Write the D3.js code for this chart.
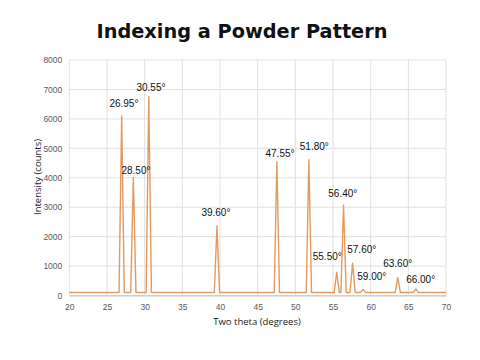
<!DOCTYPE html>
<html><head><meta charset="utf-8">
<script src="https://cdn.jsdelivr.net/npm/d3@7"></script>
<style>html,body{margin:0;padding:0;background:#fff;}</style>
</head><body>
<script>
// Trace of the powder pattern (two theta in degrees, intensity in counts)
const twoTheta = [20,
  26.6, 26.95, 27.3,
  28.15, 28.5, 28.85,
  30.2, 30.55, 30.9,
  39.25, 39.6, 39.95,
  47.2, 47.55, 47.9,
  51.45, 51.8, 52.15,
  55.15, 55.5, 55.85,
  56.05, 56.4, 56.75,
  57.25, 57.6, 57.95,
  58.65, 59.0, 59.35,
  63.25, 63.6, 63.95,
  65.65, 66.0, 66.35,
  70];
const intensity = [100,
  100, 6100, 100,
  100, 4000, 100,
  100, 6750, 100,
  100, 2370, 100,
  100, 4545, 100,
  100, 4610, 100,
  100, 790, 100,
  100, 3075, 100,
  100, 1100, 100,
  100, 210, 100,
  100, 605, 100,
  100, 220, 100,
  100];

// Peak labels and where they sit (in data units)
const peakLabels = ["26.95°","28.50°","30.55°","39.60°","47.55°","51.80°","55.50°","56.40°","57.60°","59.00°","63.60°","66.00°"];
const labelTheta = [27.25, 28.85, 30.84, 39.46, 47.97, 52.52, 54.24, 56.30, 58.82, 60.15, 63.59, 66.64];
const labelCounts = [6528, 4263, 7072, 2826, 4830, 5078, 1318, 3448, 1579, 639, 1080, 560];

const xTicks = [20,25,30,35,40,45,50,55,60,65,70];
const yTicks = [0,1000,2000,3000,4000,5000,6000,7000,8000];

const W = 480, H = 360;
const svg = d3.select("body").append("svg").attr("width", W).attr("height", H)
  .style("background", "#fff");

const x = d3.scaleLinear().domain([20,70]).range([69.3,446]);
const y = d3.scaleLinear().domain([0,8000]).range([295.5,60]);

// title
svg.append("text").attr("x", 242).attr("y", 38).attr("text-anchor","middle")
  .attr("font-family","'DejaVu Sans', Verdana, sans-serif").attr("font-weight","bold")
  .attr("font-size", 20).attr("fill","#111")
  .attr("textLength", 291).attr("lengthAdjust","spacingAndGlyphs")
  .text("Indexing a Powder Pattern");

// grid
const grid = svg.append("g");
grid.selectAll("line.h").data(yTicks).join("line").attr("class","h")
  .attr("x1", x(20)).attr("x2", x(70)).attr("y1", d=>y(d)).attr("y2", d=>y(d))
  .attr("stroke","#e0e0e0").attr("stroke-width",1);
grid.selectAll("line.v").data(xTicks).join("line").attr("class","v")
  .attr("y1", y(0)).attr("y2", y(8000)).attr("x1", d=>x(d)).attr("x2", d=>x(d))
  .attr("stroke","#e0e0e0").attr("stroke-width",1);

// axes
const xAxis = svg.append("g").attr("transform",`translate(0,${y(0)})`)
  .call(d3.axisBottom(x).tickValues(xTicks).tickSize(0).tickPadding(8));
xAxis.select(".domain").attr("stroke","#bfbfbf");
const yAxis = svg.append("g").attr("transform",`translate(${x(20)},0)`)
  .call(d3.axisLeft(y).tickValues(yTicks).tickFormat(d3.format("d")).tickSize(0).tickPadding(7));
yAxis.select(".domain").remove();
svg.selectAll(".tick text").attr("fill","#595959")
  .attr("font-family","'Liberation Sans', Arial, sans-serif").attr("font-size", 8.5);

// axis titles
svg.append("text").attr("x", 257).attr("y", 325).attr("text-anchor","middle")
  .attr("font-family","'Open Sans', 'Liberation Sans', sans-serif").attr("font-size", 9.5)
  .attr("fill","#222").text("Two theta (degrees)");
svg.append("text").attr("transform","translate(41,177) rotate(-90)").attr("text-anchor","middle")
  .attr("font-family","'Open Sans', 'Liberation Sans', sans-serif").attr("font-size", 9.5)
  .attr("fill","#222").text("Intensity (counts)");

// pattern line
const pts = twoTheta.map((t,i)=>[t, intensity[i]]);
svg.append("path").datum(pts)
  .attr("fill","none").attr("stroke","#E39A5E").attr("stroke-width",1.4)
  .attr("stroke-linejoin","round")
  .attr("d", d3.line().x(d=>x(d[0])).y(d=>y(d[1])));

// labels
svg.append("g").selectAll("text").data(peakLabels).join("text")
  .attr("x", (d,i)=>x(labelTheta[i])).attr("y", (d,i)=>y(labelCounts[i]))
  .attr("dy","0.35em").attr("text-anchor","middle")
  .attr("font-family","'Liberation Sans', Arial, sans-serif").attr("font-size", 10)
  .attr("fill","#111").text(d=>d);
</script>
</body></html>
